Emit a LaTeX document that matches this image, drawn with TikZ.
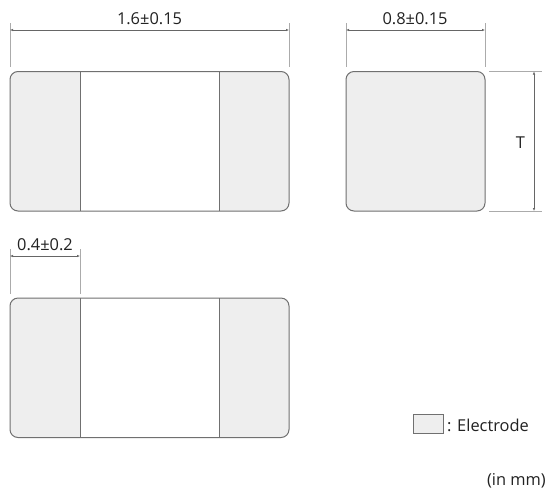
\documentclass[tikz,border=0pt]{standalone}
\usepackage{fontspec}
\setmainfont{Open Sans}
\usetikzlibrary{arrows.meta}
\definecolor{elec}{HTML}{EEEEEE}
\definecolor{edge}{HTML}{707070}
\definecolor{ext}{HTML}{ABABAB}
\definecolor{dimc}{HTML}{666666}
\definecolor{ink}{HTML}{222222}
\tikzset{
  x=1pt,y=-1pt,
  outline/.style={draw=edge,line width=1pt,rounded corners=8pt},
  divider/.style={draw=edge,line width=1pt},
  extline/.style={draw=ext,line width=0.7pt},
  dimline/.style={draw=dimc,line width=0.5pt,{Latex[length=3pt,width=2.4pt]}-{Latex[length=3pt,width=2.4pt]}},
  lbl/.style={inner sep=0pt,text=ink,font=\fontsize{16.4}{19}\selectfont},
}
\newcommand{\chipbody}[2]{% x0,y0
  \begin{scope}
    \clip[rounded corners=8pt] (#1,#2) rectangle ++(279,139.5);
    \fill[elec] (#1,#2) rectangle ++(70,139.5);
    \fill[elec] ({#1+209},#2) rectangle ++(70,139.5);
  \end{scope}
  \draw[outline] (#1,#2) rectangle ++(279,139.5);
  \draw[divider] ({#1+70},#2) -- ++(0,139.5);
  \draw[divider] ({#1+209},#2) -- ++(0,139.5);
}
\begin{document}
\begin{tikzpicture}
\useasboundingbox[fill=white] (0,0) rectangle (548,491);
% top left chip
\chipbody{10}{71.5}
\coordinate (a1) at (10,23); \coordinate (a2) at (10,67);
\coordinate (a3) at (289,23); \coordinate (a4) at (289,67);
\coordinate (ad1) at (10,30); \coordinate (ad2) at (289,30);
\draw[extline] (a1) -- (a2);
\draw[extline] (a3) -- (a4);
\draw[dimline] (ad1) -- (ad2);
\node[lbl] (la) at (149.5,18.5) {1.6±0.15};
% top right chip
\node[outline,fill=elec,minimum width=139pt,minimum height=139.5pt,inner sep=0pt,outer sep=0pt,anchor=center] (b) at (415.5,141.25) {};
\coordinate (b1) at (346,23); \coordinate (b2) at (346,67);
\coordinate (b3) at (485,23); \coordinate (b4) at (485,67);
\coordinate (bd1) at (346,30); \coordinate (bd2) at (485,30);
\draw[extline] (b1) -- (b2);
\draw[extline] (b3) -- (b4);
\draw[dimline] (bd1) -- (bd2);
\node[lbl] (lb) at (415,18.5) {0.8±0.15};
\coordinate (t1) at (489,71.5); \coordinate (t2) at (542,71.5);
\coordinate (t3) at (489,211); \coordinate (t4) at (542,211);
\coordinate (td1) at (534,71.5); \coordinate (td2) at (534,211);
\draw[extline] (t1) -- (t2);
\draw[extline] (t3) -- (t4);
\draw[dimline] (td1) -- (td2);
\node[lbl] (lt) at (520.5,143) {T};
% bottom chip
\chipbody{10}{298}
\coordinate (c1) at (10,249); \coordinate (c2) at (10,294);
\coordinate (c3) at (80,249); \coordinate (c4) at (80,294);
\coordinate (cd1) at (10,256); \coordinate (cd2) at (80,256);
\draw[extline] (c1) -- (c2);
\draw[extline] (c3) -- (c4);
\draw[dimline] (cd1) -- (cd2);
\node[lbl] (lc) at (45,245) {0.4±0.2};
% legend
\node[draw=edge,line width=0.8pt,fill=elec,minimum width=30pt,minimum height=19pt,inner sep=0pt,outer sep=0pt] (k) at (428.5,424) {};
\node[lbl,anchor=west] (kl) at (447,425) {: Electrode};
\node[lbl,anchor=east] (mm) at (546,481) {(in mm)};
\end{tikzpicture}
\end{document}
